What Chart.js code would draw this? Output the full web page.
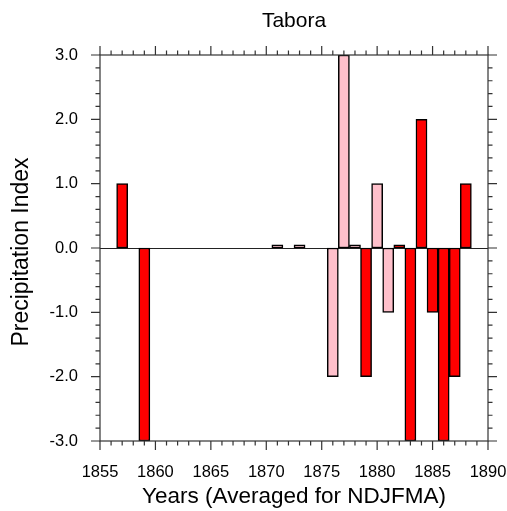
<!DOCTYPE html>
<html>
<head>
<meta charset="utf-8">
<script src="https://cdn.jsdelivr.net/npm/chart.js@4/dist/chart.umd.min.js"></script>
<style>
    html, body { margin: 0; padding: 0; background: #fff; }
    canvas { display: block; }
</style>
</head>
<body>
<canvas id="taboraChart" width="507" height="511"></canvas>
<script>
// Tabora precipitation index, two shades of bars
const redYears = [1857, 1859, 1879, 1882, 1883, 1884, 1885, 1886, 1887, 1888];
const redValues = [1, -3, -2, 0.05, -3, 2, -1, -3, -2, 1];
const pinkYears = [1871, 1873, 1876, 1877, 1878, 1880, 1881];
const pinkValues = [0.05, 0.05, -2, 3, 0.05, 1, -1];
const xTickLabels = [1855, 1860, 1865, 1870, 1875, 1880, 1885, 1890];
const yTickLabels = [-3, -2, -1, 0, 1, 2, 3];

const fontFamily = '"Liberation Sans", Arial, Helvetica, sans-serif';
Chart.defaults.font.family = fontFamily;
Chart.defaults.color = '#000';

const toPoints = (years, values) => years.map((yr, i) => ({ x: yr, y: values[i] }));

// frame, outward ticks, zero line and the titles
const framePlugin = {
    id: 'frame',
    beforeDatasetsDraw(chart) {
        const { ctx, chartArea: a, scales: { y } } = chart;
        const y0 = Math.round(y.getPixelForValue(0)) + 0.5;
        ctx.save();
        ctx.strokeStyle = '#222';
        ctx.lineWidth = 1;
        ctx.beginPath();
        ctx.moveTo(a.left, y0);
        ctx.lineTo(a.right, y0);
        ctx.stroke();
        ctx.restore();
    },
    afterDraw(chart) {
        const { ctx, chartArea: a, scales: { x, y } } = chart;
        ctx.save();
        ctx.strokeStyle = '#333';
        ctx.lineWidth = 1.2;
        ctx.strokeRect(a.left, a.top, a.right - a.left, a.bottom - a.top);

        ctx.beginPath();
        for (let yr = x.min; yr <= x.max; yr++) {
            const px = x.getPixelForValue(yr);
            const len = yr % 5 === 0 ? 9 : 4.5;
            ctx.moveTo(px, a.bottom);
            ctx.lineTo(px, a.bottom + len);
            ctx.moveTo(px, a.top);
            ctx.lineTo(px, a.top - len);
        }
        for (let k = 0; k <= 30; k++) {
            const v = -3 + k * 0.2;
            const py = y.getPixelForValue(v);
            const len = k % 5 === 0 ? 9 : 4.5;
            ctx.moveTo(a.left, py);
            ctx.lineTo(a.left - len, py);
            ctx.moveTo(a.right, py);
            ctx.lineTo(a.right + len, py);
        }
        ctx.stroke();

        ctx.fillStyle = '#000';
        ctx.textAlign = 'center';
        ctx.textBaseline = 'middle';
        const cx = (a.left + a.right) / 2;
        ctx.font = '21px ' + fontFamily;
        ctx.fillText('Tabora', cx, 21);
        ctx.font = '22.5px ' + fontFamily;
        ctx.fillText('Years (Averaged for NDJFMA)', cx, 497);
        ctx.font = '23px ' + fontFamily;
        ctx.translate(22, (a.top + a.bottom) / 2 + 4);
        ctx.rotate(-Math.PI / 2);
        ctx.fillText('Precipitation Index', 0, 0);
        ctx.restore();
    }
};

const barStyle = {
    borderColor: '#000',
    borderWidth: 1.5,
    borderSkipped: false,
    barPercentage: 1,
    categoryPercentage: 1,
    grouped: false
};

new Chart(document.getElementById('taboraChart'), {
    type: 'bar',
    data: {
        datasets: [
            { label: 'red', data: toPoints(redYears, redValues), backgroundColor: '#ff0000', ...barStyle },
            { label: 'pink', data: toPoints(pinkYears, pinkValues), backgroundColor: '#ffc0cb', ...barStyle }
        ]
    },
    options: {
        responsive: false,
        animation: false,
        layout: { padding: { top: 55, right: 19, left: 0, bottom: 0 } },
        plugins: {
            legend: { display: false },
            tooltip: { enabled: false }
        },
        scales: {
            x: {
                type: 'linear',
                offset: false,
                min: xTickLabels[0],
                max: xTickLabels[xTickLabels.length - 1],
                grid: { display: false, drawTicks: false, offset: false },
                border: { display: false },
                afterBuildTicks: (scale) => { scale.ticks = xTickLabels.map(v => ({ value: v })); },
                afterFit: (scale) => {
                    scale.height = 70;
                    scale.paddingLeft = 0;
                    scale.paddingRight = 0;
                },
                ticks: {
                    font: { size: 16.5 },
                    padding: 22,
                    maxRotation: 0,
                    autoSkip: false,
                    callback: (v) => String(v)
                }
            },
            y: {
                min: yTickLabels[0],
                max: yTickLabels[yTickLabels.length - 1],
                grid: { display: false, drawTicks: false },
                border: { display: false },
                afterBuildTicks: (scale) => { scale.ticks = yTickLabels.map(v => ({ value: v })); },
                afterFit: (scale) => {
                    scale.width = 100;
                    scale.paddingTop = 0;
                    scale.paddingBottom = 0;
                },
                ticks: {
                    font: { size: 16.5 },
                    padding: 22,
                    autoSkip: false,
                    callback: (v) => Number(v).toFixed(1)
                }
            }
        }
    },
    plugins: [framePlugin]
});
</script>
</body>
</html>
